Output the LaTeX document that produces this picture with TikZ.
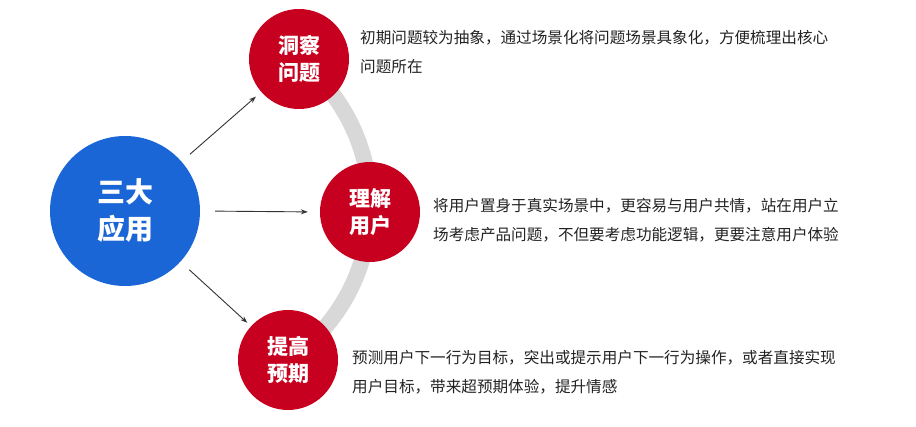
\documentclass[tikz,border=0pt]{standalone}
\usepackage{fontspec}
\setmainfont{Noto Sans CJK SC}
\newfontfamily\cjkb{Noto Sans CJK SC Bold}
\usetikzlibrary{arrows.meta}
\definecolor{mainblue}{RGB}{26,102,214}
\definecolor{mainred}{RGB}{200,0,31}
\definecolor{arcgray}{RGB}{216,216,216}
\definecolor{txtgray}{RGB}{34,34,34}
\tikzset{
  redball/.style={circle, fill=mainred, minimum size=100pt, inner sep=0pt, text=white, align=center, font=\fontsize{21}{27}\selectfont\bfseries},
  blueball/.style={circle, fill=mainblue, minimum size=150pt, inner sep=0pt, text=white, align=center, font=\fontsize{28}{37}\selectfont\bfseries},
  desc/.style={anchor=west, align=left, inner sep=0pt, text=txtgray, font=\fontsize{15.6}{29}\selectfont},
  conn/.style={-{Stealth[length=7pt,width=5pt]}, line width=0.9pt, draw=black!80},
}
\begin{document}
\begin{tikzpicture}[x=1pt,y=1pt]
\useasboundingbox (0,0) rectangle (916,426);
\coordinate (arcc) at (184,220);
\draw[arcgray, line width=16pt] (arcc) ++(52:186) arc[start angle=52, end angle=-56, radius=186];
\node[blueball] (app) at (125,215) {三大\\应用};
\node[redball] (insight) at (299,367) {洞察\\问题};
\node[redball] (user) at (370,214) {理解\\用户};
\node[redball] (expect) at (288,66) {提高\\预期};
\draw[conn, shorten <=11pt, shorten >=7pt] (app) -- (insight);
\draw[conn, shorten <=15pt, shorten >=12pt] (app.east) -- (user.west);
\draw[conn, shorten <=12pt, shorten >=5pt] (app) -- (expect);
\node[desc] (d1) at (360,373.5) {初期问题较为抽象，通过场景化将问题场景具象化，方便梳理出核心\\问题所在};
\node[desc] (d2) at (433,205.5) {将用户置身于真实场景中，更容易与用户共情，站在用户立\\场考虑产品问题，不但要考虑功能逻辑，更要注意用户体验};
\node[desc] (d3) at (352,54) {预测用户下一行为目标，突出或提示用户下一行为操作，或者直接实现\\用户目标，带来超预期体验，提升情感};
\end{tikzpicture}
\end{document}
